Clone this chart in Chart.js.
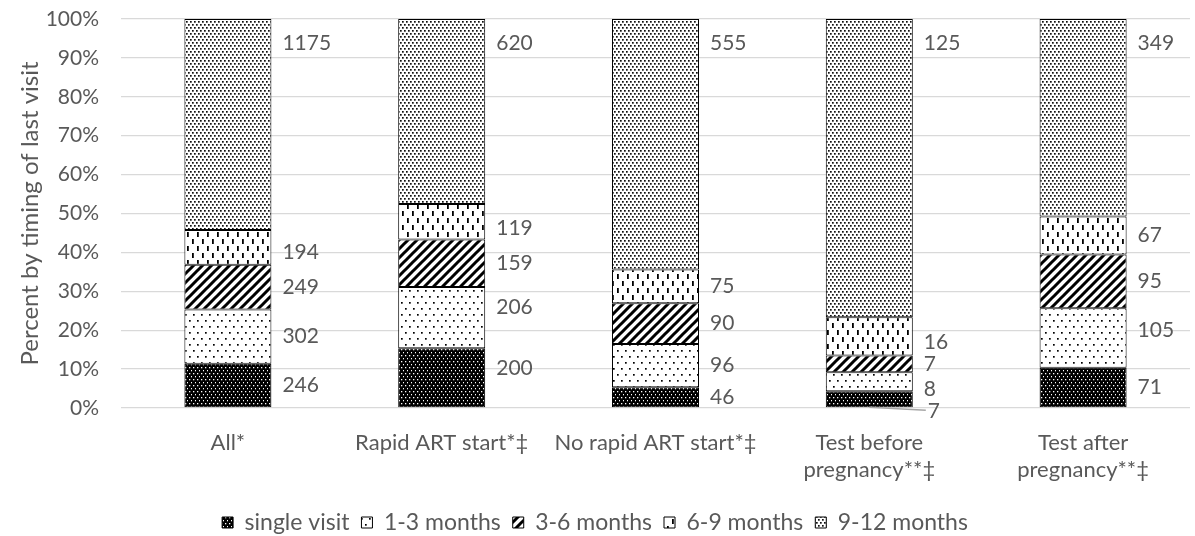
<!DOCTYPE html>
<html lang="en">
<head>
    <meta charset="UTF-8">
    <title>Timing of last visit</title>
    <style>
        body { margin: 0; background: #fff; }
        #wrap { width: 1195px; height: 536px; }
    </style>
</head>
<body>
    <div id="wrap"><canvas id="chart" width="1195" height="536"></canvas></div>
    <script src="https://cdn.jsdelivr.net/npm/chart.js"></script>
    <script>
        // categories and counts per timing group
        const categories = ['All*', 'Rapid ART start*\u2021', 'No rapid ART start*\u2021',
            ['Test before', 'pregnancy**\u2021'], ['Test after', 'pregnancy**\u2021']];
        const seriesNames = ['single visit', '1-3 months', '3-6 months', '6-9 months', '9-12 months'];
        const singleVisit = [246, 200, 46, 7, 71];
        const months1to3 = [302, 206, 96, 8, 105];
        const months3to6 = [249, 159, 90, 7, 95];
        const months6to9 = [194, 119, 75, 16, 67];
        const months9to12 = [1175, 620, 555, 125, 349];
        const yTicks = [0, 10, 20, 30, 40, 50, 60, 70, 80, 90, 100];

        const counts = [singleVisit, months1to3, months3to6, months6to9, months9to12];
        const totals = categories.map((c, i) => counts.reduce((s, arr) => s + arr[i], 0));
        const percents = counts.map(arr => arr.map((v, i) => v / totals[i] * 100));

        // pixel nudges for labels that were moved by hand in the original
        const nudge = { '3,0': 5, '3,1': 7, '1,1': -10, '0,1': -10, '3,3': 6, '1,3': 7, '1,4': -8 };

        function tile(w, h, draw) {
            const c = document.createElement('canvas');
            c.width = w; c.height = h;
            const g = c.getContext('2d');
            draw(g);
            return document.getElementById('chart').getContext('2d').createPattern(c, 'repeat');
        }
        const patterns = [
            tile(4, 6, g => { g.fillStyle = '#000'; g.fillRect(0, 0, 4, 6); g.fillStyle = '#fff';
                g.fillRect(1, 1, 1.3, 1.3); g.fillRect(3, 4, 1.3, 1.3); }),
            tile(8, 12, g => { g.fillStyle = '#fff'; g.fillRect(0, 0, 8, 12); g.fillStyle = '#000';
                g.fillRect(1, 2, 1.7, 1.7); g.fillRect(5, 8, 1.7, 1.7); }),
            tile(9, 9, g => { g.fillStyle = '#fff'; g.fillRect(0, 0, 9, 9); g.strokeStyle = '#000'; g.lineWidth = 3;
                g.beginPath(); g.moveTo(-2, 11); g.lineTo(11, -2); g.moveTo(-11, 11); g.lineTo(2, -2);
                g.moveTo(7, 11); g.lineTo(20, -2); g.stroke(); }),
            tile(10, 14, g => { g.fillStyle = '#fff'; g.fillRect(0, 0, 10, 14); g.fillStyle = '#000';
                g.fillRect(2, 1, 1.8, 5); g.fillRect(7, 8, 1.8, 5); }),
            tile(4, 6, g => { g.fillStyle = '#fff'; g.fillRect(0, 0, 4, 6); g.fillStyle = '#111';
                g.fillRect(0, 0, 1.7, 1.7); g.fillRect(2, 3, 1.7, 1.7); })
        ];

        const textColor = '#595959';

        const valueLabels = {
            id: 'valueLabels',
            afterDatasetsDraw(chart) {
                const { ctx } = chart;
                const y = chart.scales.y;
                ctx.save();
                ctx.font = '21px Lato';
                ctx.fillStyle = textColor;
                ctx.textBaseline = 'middle';
                ctx.textAlign = 'left';
                chart.data.datasets.forEach((ds, d) => {
                    chart.getDatasetMeta(d).data.forEach((bar, i) => {
                        const x = bar.x + bar.width / 2 + 11;
                        let ly = (bar.y + bar.base) / 2;
                        if (d === counts.length - 1) ly = y.getPixelForValue(93.8);
                        ly += nudge[d + ',' + i] || 0;
                        if (d === 0 && percents[0][i] < 5) {
                            // tiny segment: label below axis with leader line
                            ly = bar.base + 4;
                            ctx.strokeStyle = '#a6a6a6';
                            ctx.lineWidth = 1.5;
                            ctx.beginPath();
                            ctx.moveTo(bar.x, bar.base);
                            ctx.lineTo(x + 2, bar.base + 3);
                            ctx.stroke();
                            ctx.fillText(counts[d][i], x + 4, ly);
                            return;
                        }
                        ctx.fillText(counts[d][i], x, ly);
                    });
                });
                ctx.restore();
            }
        };

        new Chart(document.getElementById('chart'), {
            type: 'bar',
            data: {
                labels: categories,
                datasets: seriesNames.map((name, d) => ({
                    label: name,
                    data: percents[d],
                    backgroundColor: patterns[d],
                    borderColor: '#000',
                    borderWidth: 1,
                    borderSkipped: false,
                    barPercentage: 0.407,
                    categoryPercentage: 1
                }))
            },
            options: {
                responsive: false,
                animation: false,
                layout: { padding: { top: 19, right: 5, bottom: -8, left: 0 } },
                plugins: {
                    tooltip: { enabled: false },
                    legend: {
                        position: 'bottom',
                        labels: { color: textColor, font: { family: 'Lato', size: 23 },
                            boxWidth: 11, boxHeight: 11, padding: 12 }
                    }
                },
                scales: {
                    x: {
                        stacked: true,
                        grid: { display: false },
                        border: { display: false },
                        ticks: { color: textColor, font: { family: 'Lato', size: 22 }, padding: 14, maxRotation: 0 },
                        afterFit: s => { s.height = 91; }
                    },
                    y: {
                        stacked: true,
                        min: 0, max: 100,
                        afterBuildTicks: s => { s.ticks = yTicks.map(v => ({ value: v })); },
                        grid: { color: '#d9d9d9', lineWidth: 1.3, drawTicks: true, tickLength: 22, tickColor: 'rgba(0,0,0,0)' },
                        border: { display: false },
                        ticks: { color: textColor, font: { family: 'Lato', size: 21 }, padding: 0, callback: v => v + '%' },
                        title: { display: true, text: 'Percent by timing of last visit', color: textColor,
                            font: { family: 'Lato', size: 24 }, padding: { top: 15.5 } },
                        afterFit: s => { s.width = 121; }
                    }
                }
            },
            plugins: [valueLabels]
        });
    </script>
</body>
</html>
